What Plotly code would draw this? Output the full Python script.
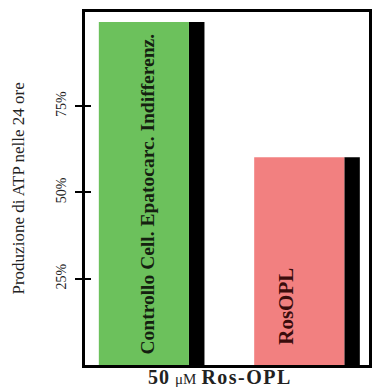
import plotly.graph_objects as go

categories = ["Controllo Cell. Epatocarc. Indifferenz.", "RosOPL"]
values = [99.4, 60.2]
bar_colors = ["#6cc15c", "#f28080"]
tick_values = [25, 50, 75]
tick_labels = ["25%", "50%", "75%"]
y_title = "Produzione di ATP nelle 24 ore"
x_title = ("<span style='letter-spacing:1px'><b>50</b></span> "
           "<span style='font-size:15px'>μM</span> "
           "<span style='letter-spacing:1.5px'><b>Ros-OPL</b></span>")

SERIF = "Liberation Serif, Times New Roman, serif"

fig = go.Figure()
# black "shadow" bars to the right of each bar
fig.add_trace(go.Bar(x=categories, y=values, marker=dict(color="black", line_width=0),
                     width=0.1, offset=0.29, hoverinfo="skip", showlegend=False))
fig.add_trace(go.Bar(x=categories, y=values, marker=dict(color=bar_colors, line_width=0),
                     width=0.58, offset=-0.29, showlegend=False))

# invisible trace for inner ticks axis
fig.add_trace(go.Scatter(x=[categories[0]], y=[0], yaxis="y2", mode="markers",
                         marker=dict(opacity=0), hoverinfo="skip", showlegend=False))

fig.update_layout(
    width=375, height=389,
    margin=dict(l=85, r=3, t=12, b=24),
    paper_bgcolor="white", plot_bgcolor="white",
    barmode="overlay",
    xaxis=dict(type="category", range=[-0.379, 1.449], showticklabels=False, ticks="",
               showgrid=False, zeroline=False, showline=True, linecolor="black",
               linewidth=3, mirror=True, fixedrange=True),
    yaxis=dict(range=[0, 102.3], tickvals=tick_values, ticktext=tick_labels,
               tickangle=-90, ticks="outside", ticklen=7, tickwidth=1.5, tickcolor="black",
               tickfont=dict(family=SERIF, size=14, color="#222"), ticklabelstandoff=4,
               showgrid=False, zeroline=False, showline=True, linecolor="black",
               linewidth=2.5, mirror=True),
    yaxis2=dict(range=[0, 102.3], overlaying="y", side="left", tickvals=tick_values,
                showticklabels=False, ticks="inside", ticklen=6, tickwidth=1.5,
                tickcolor="black", showgrid=False, zeroline=False, showline=False),
)

fig.add_annotation(text=y_title, xref="paper", yref="paper", x=0, y=0.50,
                   xshift=-67, xanchor="center", yanchor="middle", textangle=-90,
                   showarrow=False, font=dict(family=SERIF, size=17, color="#222"))
fig.add_annotation(text="<b>" + categories[0] + "</b>", xref="x", yref="paper",
                   x=categories[0], y=0.484, xshift=3.5, xanchor="center", yanchor="middle",
                   textangle=-90, showarrow=False,
                   font=dict(family=SERIF, size=19.5, color="#142010"))
fig.add_annotation(text="<b>" + categories[1] + "</b>", xref="x", yref="paper",
                   x=categories[1], y=0.167, xshift=-13.5, xanchor="center", yanchor="middle",
                   textangle=-90, showarrow=False,
                   font=dict(family=SERIF, size=21, color="#3a0c0c"))
fig.add_annotation(text=x_title, xref="paper", yref="paper", x=0.474, y=0,
                   yshift=-12, xanchor="center", yanchor="middle", showarrow=False,
                   font=dict(family=SERIF, size=20, color="#222"))

fig.write_html("out.html", config={"displayModeBar": False},
               post_script="document.body.style.margin='0';document.body.style.padding='0';")
